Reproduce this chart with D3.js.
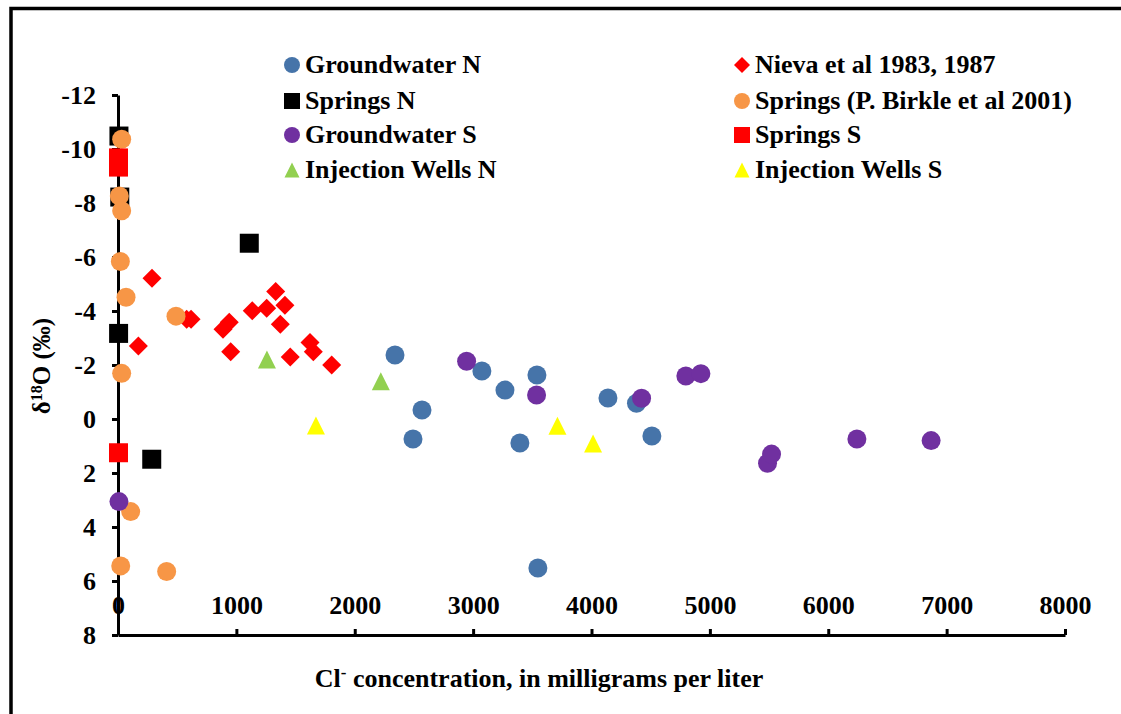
<!DOCTYPE html>
<html><head><meta charset="utf-8">
<script src="https://cdnjs.cloudflare.com/ajax/libs/d3/7.8.5/d3.min.js"></script>
<style>
html,body{margin:0;padding:0;background:#fff;}
svg{display:block;font-family:"Liberation Serif","Times New Roman",serif;font-weight:bold;}
</style></head>
<body>
<svg id="chart" width="1121" height="714"></svg>
<script>
// ---- data (Cl- mg/L, δ18O ‰) ----
const gwN_x = [2340, 2568, 2492, 3074, 3269, 3395, 3539, 3547, 4139, 4380, 4510];
const gwN_y = [-2.37, -0.33, 0.74, -1.78, -1.07, 0.89, -1.63, 5.52, -0.78, -0.58, 0.63];

const nieva_x = [287, 172, 580, 617, 887, 940, 952, 1134, 1256, 1332, 1410, 1371, 1455, 1622, 1650, 1805];
const nieva_y = [-5.21, -2.70, -3.69, -3.69, -3.32, -3.58, -2.49, -4.01, -4.10, -4.72, -4.21, -3.51, -2.30, -2.83, -2.49, -2.00];

const springsN_x = [8, 15, 5, 1109, 285];
const springsN_y = [-10.48, -8.22, -3.17, -6.51, 1.49];

const birkle_x = [31, 11, 31, 20, 68, 490, 31, 107, 23, 411];
const birkle_y = [-10.36, -8.26, -7.71, -5.83, -4.51, -3.81, -1.69, 3.43, 5.44, 5.65];

const gwS_x = [2945, 3536, 4423, 4797, 4924, 5487, 5521, 6242, 6869, 8];
const gwS_y = [-2.14, -0.89, -0.77, -1.59, -1.68, 1.64, 1.30, 0.74, 0.80, 3.06];

const springsS_x = [4, 4, 4];
const springsS_y = [-9.67, -9.33, 1.25];

const injN_x = [1258, 2220];
const injN_y = [-2.20, -1.40];

const injS_x = [1672, 3712, 4013];
const injS_y = [0.24, 0.25, 0.91];

const xTicks = [0, 1000, 2000, 3000, 4000, 5000, 6000, 7000, 8000];
const yTicks = [-12, -10, -8, -6, -4, -2, 0, 2, 4, 6, 8];

const seriesNames = ["Groundwater N", "Nieva et al 1983, 1987", "Springs N", "Springs (P. Birkle et al 2001)",
                     "Groundwater S", "Springs S", "Injection Wells N", "Injection Wells S"];

// ---- build ----
const series = [
  {name: seriesNames[0], xs: gwN_x, ys: gwN_y, shape: "circle", color: "#4674A9"},
  {name: seriesNames[1], xs: nieva_x, ys: nieva_y, shape: "diamond", color: "#FF0000"},
  {name: seriesNames[2], xs: springsN_x, ys: springsN_y, shape: "square", color: "#000000"},
  {name: seriesNames[3], xs: birkle_x, ys: birkle_y, shape: "circle", color: "#F79646"},
  {name: seriesNames[4], xs: gwS_x, ys: gwS_y, shape: "circle", color: "#7030A0"},
  {name: seriesNames[5], xs: springsS_x, ys: springsS_y, shape: "square", color: "#FF0000"},
  {name: seriesNames[6], xs: injN_x, ys: injN_y, shape: "triangle", color: "#92D050"},
  {name: seriesNames[7], xs: injS_x, ys: injS_y, shape: "triangle", color: "#FFFF00"}
];

const FONT = '"Liberation Serif","Times New Roman",serif';
const svg = d3.select("#chart");
const x = d3.scaleLinear().domain([0, 8000]).range([118, 1065]);
const y = d3.scaleLinear().domain([-12, 8]).range([95, 635]);

// outer border
svg.append("rect").attr("x", 11).attr("y", 8.5).attr("width", 1200).attr("height", 800)
  .attr("fill", "none").attr("stroke", "#000").attr("stroke-width", 3.5);

function shapePath(shape, s) {
  const h = s / 2;
  if (shape === "circle") return `M${h},0A${h},${h} 0 1,1 ${-h},0A${h},${h} 0 1,1 ${h},0Z`;
  if (shape === "square") return `M${-h},${-h}H${h}V${h}H${-h}Z`;
  if (shape === "diamond") return `M0,${-h}L${h},0L0,${h}L${-h},0Z`;
  if (shape === "triangle") return `M0,${-h}L${h},${h}L${-h},${h}Z`;
}
const sizes = {circle: 19, square: 19, diamond: 19, triangle: 18};

// axes
const yAxis = d3.axisLeft(y).tickValues(yTicks).tickSize(6).tickSizeOuter(0).tickPadding(16).tickFormat(d3.format("d"));
const gy = svg.append("g").attr("transform", `translate(${x(0)},0)`).call(yAxis);
const xAxis = d3.axisTop(x).tickValues(xTicks).tickSize(6).tickSizeOuter(0).tickPadding(15).tickFormat(d3.format("d"));
const gx = svg.append("g").attr("transform", `translate(0,${y(8)})`).call(xAxis);
[gx, gy].forEach(g => {
  g.attr("font-family", FONT).attr("font-size", 26).attr("font-weight", "bold");
  g.select(".domain").attr("stroke", "#000").attr("stroke-width", 3);
  g.selectAll(".tick line").attr("stroke", "#000").attr("stroke-width", 3);
  g.selectAll(".tick text").attr("fill", "#000");
});
gy.selectAll(".tick text").text(d => d < 0 ? "-" + Math.abs(d) : d);

// points
const pts = svg.append("g");
series.forEach(s => {
  pts.append("g").selectAll("path").data(s.xs.map((v, i) => [v, s.ys[i]])).join("path")
    .attr("transform", d => `translate(${x(d[0])},${y(d[1])})`)
    .attr("d", shapePath(s.shape, sizes[s.shape]))
    .attr("fill", s.color);
});

// legend
const legCols = [292, 742], legRows = [65, 101, 135, 170];
const leg = svg.append("g").attr("font-family", FONT).attr("font-weight", "bold").attr("font-size", 26);
series.forEach((s, i) => {
  const cx = legCols[i % 2], cy = legRows[Math.floor(i / 2)];
  leg.append("path").attr("transform", `translate(${cx},${cy})`)
    .attr("d", shapePath(s.shape, s.shape === "triangle" ? 15 : 16)).attr("fill", s.color);
  leg.append("text").attr("x", cx + 13).attr("y", cy + 8).attr("fill", "#000").text(s.name);
});

// axis titles
const xt = svg.append("text").attr("x", 539).attr("y", 687).attr("text-anchor", "middle")
  .attr("font-family", FONT).attr("font-weight", "bold").attr("font-size", 26);
xt.append("tspan").text("Cl");
xt.append("tspan").attr("baseline-shift", "super").attr("font-size", 17).text("-");
xt.append("tspan").text(" concentration, in milligrams per liter");

const yt = svg.append("text").attr("transform", "translate(50,366) rotate(-90)").attr("text-anchor", "middle")
  .attr("font-family", FONT).attr("font-weight", "bold").attr("font-size", 25);
yt.append("tspan").text("δ");
yt.append("tspan").attr("baseline-shift", "super").attr("font-size", 16).text("18");
yt.append("tspan").text("O (‰)");
</script>
</body></html>
